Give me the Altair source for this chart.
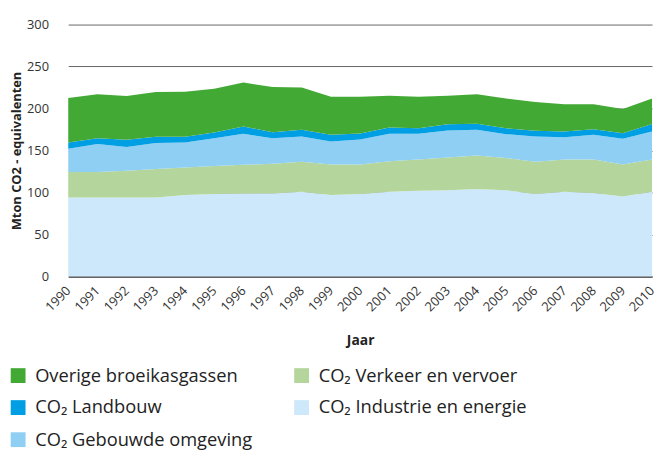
import altair as alt
import pandas as pd

years = [1990, 1991, 1992, 1993, 1994, 1995, 1996, 1997, 1998, 1999, 2000,
         2001, 2002, 2003, 2004, 2005, 2006, 2007, 2008, 2009, 2010]

industrie = [94.1, 94.1, 94.1, 94.1, 96.9, 98.1, 98.8, 98.8, 100.8, 96.9, 98.1,
             100.8, 102.0, 102.8, 104.0, 102.8, 98.1, 100.8, 99.3, 95.3, 100.8]
verkeer = [30.3, 30.3, 31.8, 33.8, 33.0, 33.3, 34.2, 35.3, 35.7, 36.5, 35.3,
           36.5, 37.3, 38.8, 40.0, 38.4, 38.4, 38.5, 40.0, 38.1, 38.5]
gebouwde = [27.8, 33.3, 28.3, 30.9, 29.7, 33.3, 36.9, 30.6, 30.2, 27.4, 29.6,
            32.6, 30.6, 32.2, 30.6, 28.2, 30.2, 26.6, 29.4, 30.6, 33.3]
landbouw = [7.4, 7.0, 8.6, 7.5, 6.7, 6.7, 8.6, 7.1, 7.9, 7.9, 7.2,
            7.4, 6.6, 7.4, 7.4, 7.1, 6.7, 6.7, 6.6, 6.6, 9.0]
overige = [53.0, 52.3, 52.2, 53.3, 53.7, 52.1, 52.5, 53.7, 50.4, 45.3, 43.8,
           38.0, 37.5, 34.1, 35.0, 35.3, 34.5, 32.6, 29.9, 28.7, 30.2]

series = [
    ("CO₂ Industrie en energie", industrie),
    ("CO₂ Verkeer en vervoer", verkeer),
    ("CO₂ Gebouwde omgeving", gebouwde),
    ("CO₂ Landbouw", landbouw),
    ("Overige broeikasgassen", overige),
]

# legend fills column by column
legend_order = ["Overige broeikasgassen", "CO₂ Landbouw", "CO₂ Gebouwde omgeving",
                "CO₂ Verkeer en vervoer", "CO₂ Industrie en energie"]
legend_colors = ["#43a935", "#009fe3", "#8ecff3", "#b4d59b", "#cde8fa"]

y_ticks = [0, 50, 100, 150, 200, 250, 300]

rows = []
for order, (name, vals) in enumerate(series):
    for yr, v in zip(years, vals):
        rows.append({"Jaar": yr, "Serie": name, "Waarde": v, "Volgorde": order})
df = pd.DataFrame(rows)

chart = alt.Chart(df).mark_area(opacity=1).encode(
    x=alt.X("Jaar:Q",
            scale=alt.Scale(domain=[1990, 2010], nice=False, zero=False),
            axis=alt.Axis(values=years, format="d", labelAngle=-45,
                          labelAlign="right", labelBaseline="middle",
                          labelOverlap=False, labelBound=False,
                          labelPadding=12, labelFontSize=13, labelColor="#333",
                          labelFont="Open Sans", ticks=False, grid=False,
                          domainColor="#444", domainWidth=1.5,
                          title="Jaar", titleFont="Open Sans", titleFontSize=14,
                          titleFontWeight="bold", titleColor="#222",
                          titlePadding=20)),
    y=alt.Y("Waarde:Q", stack="zero",
            scale=alt.Scale(domain=[0, 300], nice=False),
            axis=alt.Axis(values=y_ticks, labelFontSize=13, labelColor="#333",
                          labelFont="Open Sans", labelPadding=20, ticks=False,
                          domain=False, grid=True, gridColor="#666", gridWidth=1,
                          title="Mton CO2 - equivalenten", titleFont="Open Sans",
                          titleFontSize=13, titleFontWeight="bold",
                          titleColor="#222", titlePadding=3)),
    color=alt.Color("Serie:N",
                    scale=alt.Scale(domain=legend_order, range=legend_colors),
                    legend=alt.Legend(title=None, orient="none", legendX=-60,
                                      legendY=346, columns=2, columnPadding=40,
                                      rowPadding=13.5, symbolType="square",
                                      symbolSize=225, symbolStrokeWidth=0,
                                      symbolOpacity=1, labelFont="Open Sans",
                                      labelFontSize=18.5, labelColor="#222",
                                      labelOffset=8, labelLimit=400)),
    order=alt.Order("Volgorde:Q"),
).properties(
    width=591, height=255,
    padding={"left": 61, "top": 14, "right": 2, "bottom": 178},
    autosize=alt.AutoSizeParams(type="none"),
).configure_view(stroke=None)

chart.save("out.html", embed_options={"renderer": "svg", "actions": False})
